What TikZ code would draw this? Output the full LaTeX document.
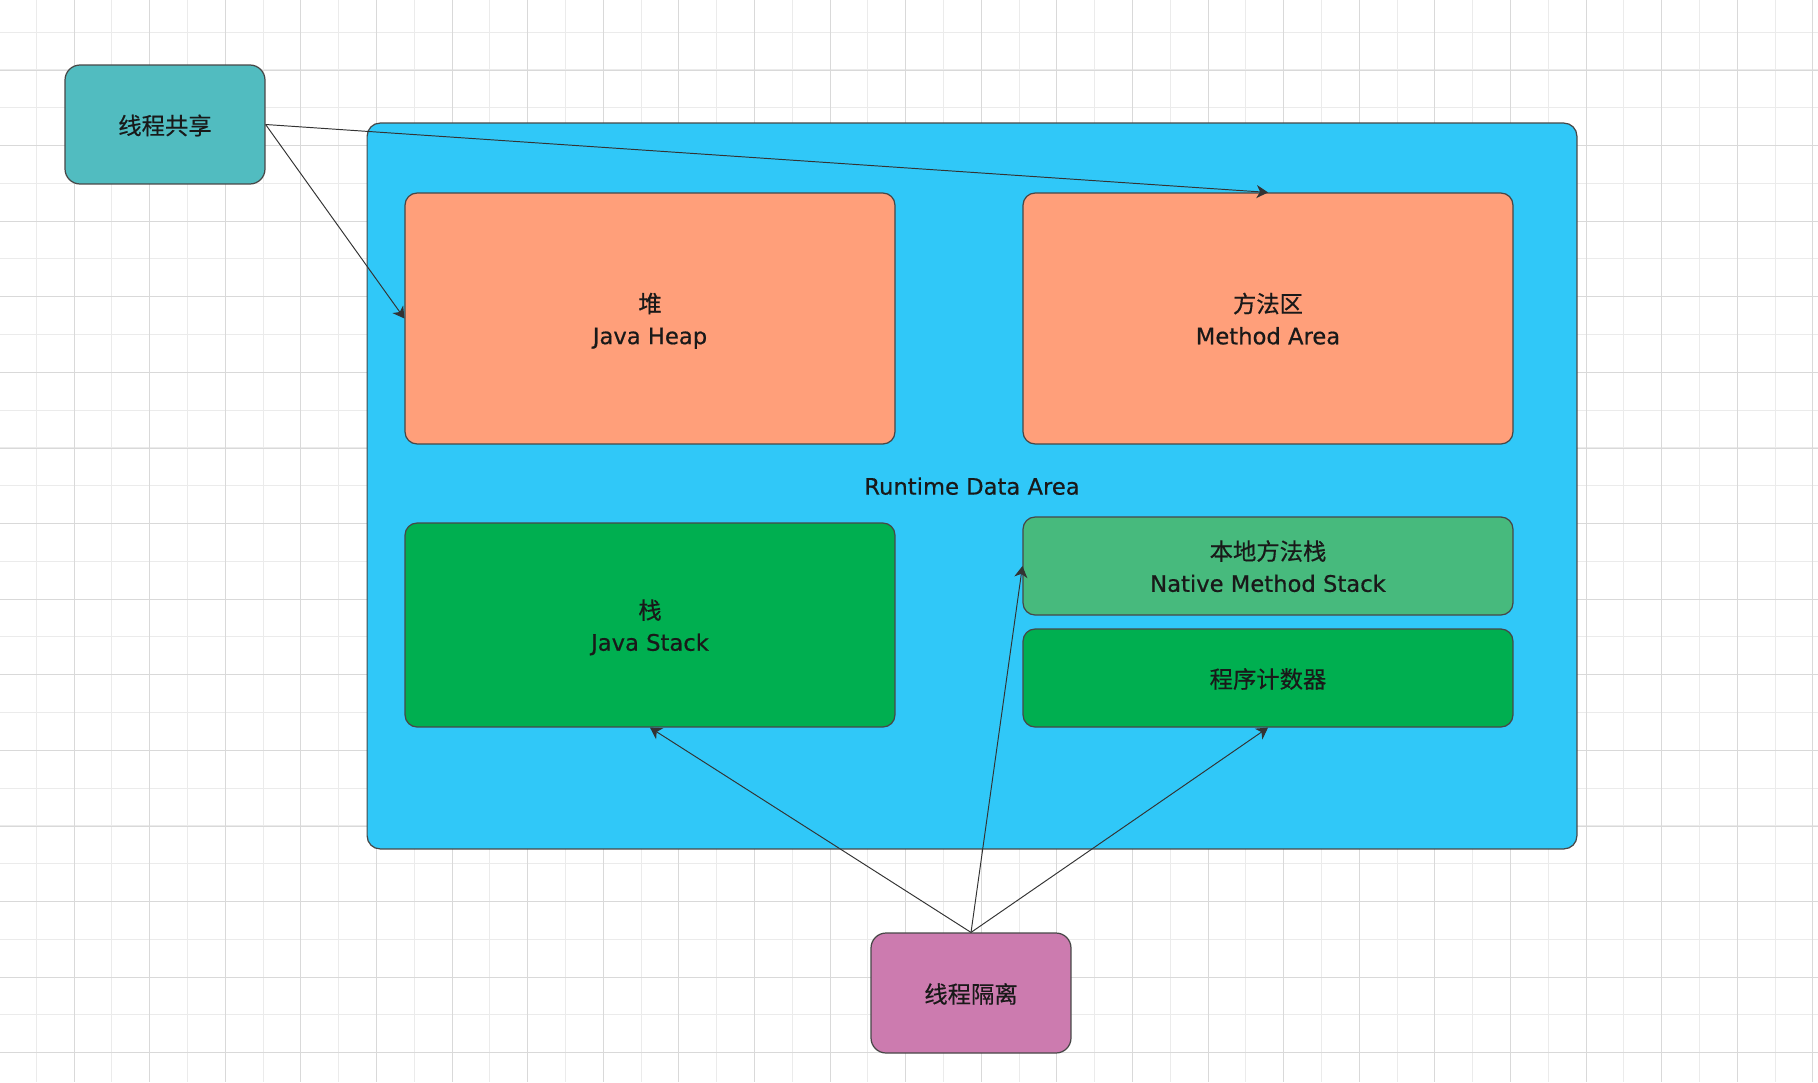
\documentclass[tikz,border=0pt]{standalone}
\usepackage{fontspec}
\setmainfont{DejaVu Sans}[FakeBold=0.6]
\newfontfamily\cjk{Noto Sans CJK SC}[Scale=1.03, FakeBold=0.5]
\usepackage{tikz}
\usetikzlibrary{arrows.meta}

\definecolor{shareC}{HTML}{51BCC0}
\definecolor{areaC}{HTML}{30C8F8}
\definecolor{heapC}{HTML}{FF9F7A}
\definecolor{stackC}{HTML}{00AF50}
\definecolor{nativeC}{HTML}{47BA7D}
\definecolor{isoC}{HTML}{CC7BAF}
\definecolor{lineC}{HTML}{333333}

\begin{document}
\begin{tikzpicture}[
    x=0.02cm, y=-0.02cm,
    >=Stealth,
    box/.style={draw=black!72, line width=0.7pt, rounded corners=0.24cm,
        inner sep=0pt, align=center, text=black!90, text depth=0pt,
        font=\fontsize{12.9}{18.1}\selectfont},
    arr/.style={draw=lineC, line width=0.55pt,
        -{Stealth[length=6.5pt, width=7.5pt, inset=2pt]}}
]
\useasboundingbox (0,0) rectangle (1818,1082);

% 背景网格
\foreach \i in {0,...,48} {
    \draw[color=black!8, line width=0.5pt] (-1.6+37.8*\i,0) -- (-1.6+37.8*\i,1082);
}
\foreach \i in {0,...,29} {
    \draw[color=black!8, line width=0.5pt] (0,-5.8+37.8*\i) -- (1818,-5.8+37.8*\i);
}
\foreach \i in {0,...,24} {
    \draw[color=black!15, line width=0.5pt] (-1.6+75.6*\i,0) -- (-1.6+75.6*\i,1082);
}
\foreach \i in {0,...,14} {
    \draw[color=black!15, line width=0.5pt] (0,70+75.6*\i) -- (1818,70+75.6*\i);
}

% 运行时数据区
\node[box, fill=areaC, rounded corners=0.26cm, minimum width=24.2cm, minimum height=14.52cm]
    (area) at (972,486) {Runtime Data Area};

% 线程共享部分
\node[box, fill=heapC, minimum width=9.8cm, minimum height=5.02cm]
    (heap) at (650,318.5) {{\cjk 堆}\\Java Heap};
\node[box, fill=heapC, minimum width=9.8cm, minimum height=5.02cm]
    (method) at (1268,318.5) {{\cjk 方法区}\\Method Area};

% 线程隔离部分
\node[box, fill=stackC, minimum width=9.8cm, minimum height=4.08cm]
    (stack) at (650,625) {{\cjk 栈}\\Java Stack};
\node[box, fill=nativeC, minimum width=9.8cm, minimum height=1.96cm]
    (native) at (1268,566) {{\cjk 本地方法栈}\\Native Method Stack};
\node[box, fill=stackC, minimum width=9.8cm, minimum height=1.96cm]
    (pc) at (1268,678) {\cjk 程序计数器};

% 两个说明框
\node[box, fill=shareC, rounded corners=0.3cm, minimum width=4cm, minimum height=2.38cm]
    (share) at (165,124.5) {\cjk 线程共享};
\node[box, fill=isoC, rounded corners=0.3cm, minimum width=4cm, minimum height=2.4cm]
    (iso) at (971,993) {\cjk 线程隔离};

% 线程共享 指向 堆, 方法区
\draw[arr] (share.east) -- (heap.west);
\draw[arr] (share.east) -- (method.north);

% 线程隔离 指向 栈, 本地方法栈, 程序计数器
\draw[arr] (iso.north) -- (stack.south);
\draw[arr] (iso.north) -- (native.west);
\draw[arr] (iso.north) -- (pc.south);

\end{tikzpicture}
\end{document}
